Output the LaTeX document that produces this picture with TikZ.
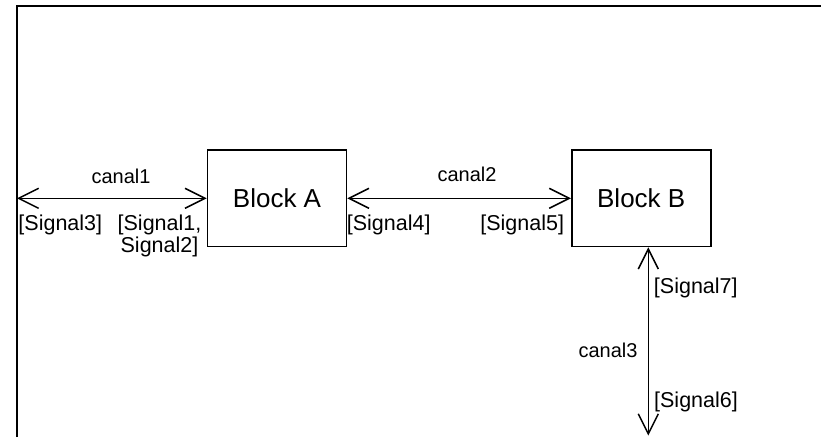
\documentclass[tikz,border=0pt]{standalone}
\usepackage{fontspec}
\setmainfont{Liberation Sans}
\usetikzlibrary{arrows.meta}

\begin{document}
\begin{tikzpicture}[x=1pt,y=-1pt,
		block/.style={draw, line width=1.6pt, minimum width=139pt, minimum height=96.5pt, inner sep=0pt, font=\fontsize{26}{30}\selectfont},
		chan/.style={line width=1.5pt, {Straight Barb[length=20pt,width=20pt]}-{Straight Barb[length=20pt,width=20pt]}},
		chanlabel/.style={anchor=base, inner sep=0pt, font=\fontsize{20}{24}\selectfont},
		siglabel/.style={anchor=base, inner sep=0pt, align=center, font=\fontsize{21.5}{22}\selectfont}]
		\useasboundingbox (0,0) rectangle (821,437);
		% frame edges
		\draw[line width=1.6pt] (17,437) -- (17,6) -- (821,6);
		% blocks
		\node[block] (blockA) at (277,198.3) {Block A};
		\node[block] (blockB) at (641.2,198.3) {Block B};
		% free ends
		\coordinate (c1end) at (17,198.3);
		\coordinate (c3end) at (648.3,435.5);
		% channels
		\draw[chan] (c1end) -- (blockA.west);
		\draw[chan] (blockA.east) -- (blockB.west);
		\draw[chan] (blockB.south -| c3end) -- (c3end);
		\node[chanlabel] (canal1) at (121,183) {canal1};
		\node[chanlabel] (canal2) at (467,181) {canal2};
		\node[chanlabel] (canal3) at (608,357) {canal3};
		% signals (base of a two-line label is its last line)
		\node[siglabel] (sig3) at (60.3,230.5) {[Signal3]};
		\node[siglabel] (sig12) at (159.5,252.5) {[Signal1,\\Signal2]};
		\node[siglabel] (sig4) at (388.7,230.5) {[Signal4]};
		\node[siglabel] (sig5) at (522.2,230.5) {[Signal5]};
		\node[siglabel] (sig7) at (695.8,293.5) {[Signal7]};
		\node[siglabel] (sig6) at (696,407.5) {[Signal6]};
	\end{tikzpicture}
\end{document}
